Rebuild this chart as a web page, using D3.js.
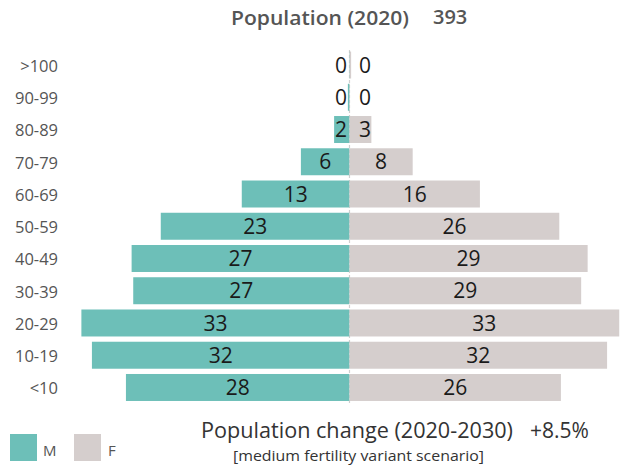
<!DOCTYPE html>
<html>
<head>
<meta charset="utf-8">
<script src="https://cdn.jsdelivr.net/npm/d3@7"></script>
<style>
  html, body { margin: 0; padding: 0; background: #fff; }
  svg { display: block; }
  text { font-family: "Open Sans", "Noto Sans", sans-serif; }
</style>
</head>
<body>
<svg id="chart" width="622" height="469"></svg>
<script>
const ageGroups = [">100", "90-99", "80-89", "70-79", "60-69", "50-59", "40-49", "30-39", "20-29", "10-19", "<10"];
const maleValues = [0.05, 0.2, 1.9, 6.0, 13.3, 23.3, 26.9, 26.7, 33.1, 31.8, 27.6];
const femaleValues = [0.2, 0.05, 2.7, 7.8, 16.1, 25.9, 29.4, 28.6, 33.3, 31.8, 26.1];
const sexes = ["M", "F"];
const sexColors = ["#6dbfb8", "#d5cecd"];
const titleText = "Population (2020)";
const totalText = "393";
const changeText = "Population change (2020-2030)";
const changeValue = "+8.5%";
const scenarioText = "[medium fertility variant scenario]";

const svg = d3.select("#chart");
const cx = 349.5;
const x = d3.scaleLinear().domain([-35, 35]).range([cx - 35 * 8.1, cx + 35 * 8.1]);
const y = d3.scaleBand().domain(ageGroups).range([48.9, 403.6]).paddingInner(0.163).paddingOuter(0.0815);
const color = d3.scaleOrdinal().domain(sexes).range(sexColors);

// center dashed line
svg.append("line")
  .attr("x1", x(0)).attr("x2", x(0))
  .attr("y1", 50).attr("y2", 404)
  .attr("stroke", "#cfcfcf").attr("stroke-width", 1.2)
  .attr("stroke-dasharray", "3,2");

const rows = ageGroups.map((a, i) => ({ age: a, m: maleValues[i], f: femaleValues[i] }));

// male bars
svg.selectAll("rect.m").data(rows).join("rect").attr("class", "m")
  .attr("x", d => x(-d.m)).attr("width", d => x(0) - x(-d.m))
  .attr("y", d => y(d.age)).attr("height", y.bandwidth())
  .attr("fill", color("M"));

// female bars
svg.selectAll("rect.f").data(rows).join("rect").attr("class", "f")
  .attr("x", x(0)).attr("width", d => x(d.f) - x(0))
  .attr("y", d => y(d.age)).attr("height", y.bandwidth())
  .attr("fill", color("F"));

// value labels
svg.selectAll("text.ml").data(rows).join("text").attr("class", "ml")
  .attr("x", d => Math.min((x(-d.m) + x(0)) / 2, x(0) - 8.5))
  .attr("y", d => y(d.age) + y.bandwidth() / 2)
  .attr("dy", "0.36em").attr("text-anchor", "middle")
  .attr("font-size", 21).attr("fill", "#1a1a1a")
  .text(d => Math.round(d.m));

svg.selectAll("text.fl").data(rows).join("text").attr("class", "fl")
  .attr("x", d => Math.max((x(d.f) + x(0)) / 2, x(0) + 15.5))
  .attr("y", d => y(d.age) + y.bandwidth() / 2)
  .attr("dy", "0.36em").attr("text-anchor", "middle")
  .attr("font-size", 21).attr("fill", "#1a1a1a")
  .text(d => Math.round(d.f));

// y axis labels
const yAxis = d3.axisLeft(y).tickSize(0).tickPadding(0);
const gy = svg.append("g").attr("transform", "translate(58,1.5)").call(yAxis);
gy.select(".domain").remove();
gy.selectAll("text").attr("font-size", 16.5).attr("fill", "#555")
  .attr("font-family", "'Open Sans', sans-serif");

// title
svg.append("text").attr("x", 231).attr("y", 25)
  .attr("font-size", 20).attr("font-weight", 600).attr("fill", "#555")
  .attr("textLength", 178).attr("lengthAdjust", "spacingAndGlyphs")
  .text(titleText);
svg.append("text").attr("x", 433).attr("y", 24)
  .attr("font-size", 20).attr("font-weight", 600).attr("fill", "#555")
  .text(totalText);

// bottom texts
svg.append("text").attr("x", 201).attr("y", 438)
  .attr("font-size", 21).attr("fill", "#333")
  .attr("textLength", 312).attr("lengthAdjust", "spacingAndGlyphs")
  .text(changeText);
svg.append("text").attr("x", 530).attr("y", 438)
  .attr("font-size", 21).attr("fill", "#333").text(changeValue);
svg.append("text").attr("x", 233).attr("y", 461)
  .attr("font-size", 15).attr("fill", "#333")
  .attr("textLength", 251).attr("lengthAdjust", "spacingAndGlyphs")
  .text(scenarioText);

// legend
const lg = svg.append("g");
sexes.forEach((s, i) => {
  lg.append("rect").attr("x", 10 + i * 64).attr("y", 434).attr("width", 27).attr("height", 27)
    .attr("fill", color(s));
  lg.append("text").attr("x", 43 + i * 65).attr("y", 456)
    .attr("font-size", 15).attr("fill", "#555").text(s);
});
</script>
</body>
</html>
